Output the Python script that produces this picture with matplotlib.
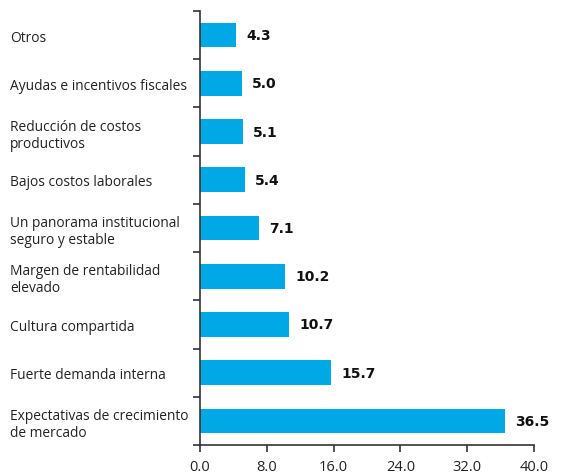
import numpy as np
import matplotlib.pyplot as plt

# data, top to bottom
labels = ["Otros", "Ayudas e incentivos fiscales", "Reducción de costos\nproductivos",
          "Bajos costos laborales", "Un panorama institucional\nseguro y estable",
          "Margen de rentabilidad\nelevado", "Cultura compartida",
          "Fuerte demanda interna", "Expectativas de crecimiento\nde mercado"]
values = [4.3, 5.0, 5.1, 5.4, 7.1, 10.2, 10.7, 15.7, 36.5]
xticks = [0, 8, 16, 24, 32, 40]

plt.rcParams['font.family'] = ['Open Sans', 'DejaVu Sans']

fig = plt.figure(figsize=(5.63, 4.77), dpi=100)
ax = fig.add_axes([200/563, 31/477, 334/563, 434/477])

y = np.arange(len(values))
ax.barh(y, values, height=0.51, color='#00A9E6')
ax.set_ylim(len(values) - 0.5, -0.5)
ax.set_xlim(0, 40)

for yi, v in zip(y, values):
    ax.text(v + 1.2, yi, "%.1f" % v, va='center', ha='left', family='DejaVu Sans',
            fontsize=10, fontweight='bold', color='#111111')

ax.set_xticks(xticks)
ax.set_xticklabels(["%.1f" % t for t in xticks], fontsize=10.5, color='#222222')
ax.tick_params(axis='x', direction='out', length=5, width=1.2, color='#333333', pad=5)

# tick marks between categories, labels at the category centres
ax.set_yticks(y)
ax.set_yticklabels(labels, fontsize=9.9, color='#222222', ha='left', linespacing=1.2)
ax.tick_params(axis='y', which='major', length=0, pad=190 * 72 / 100)
ax.set_yticks(np.arange(-0.5, len(values), 1), minor=True)
ax.tick_params(axis='y', which='minor', direction='out', length=5, width=1.2, color='#333333')

for s in ['top', 'right']:
    ax.spines[s].set_visible(False)
for s in ['left', 'bottom']:
    ax.spines[s].set_color('#333333')
    ax.spines[s].set_linewidth(1.2)

fig.savefig('out.png', dpi=100)
